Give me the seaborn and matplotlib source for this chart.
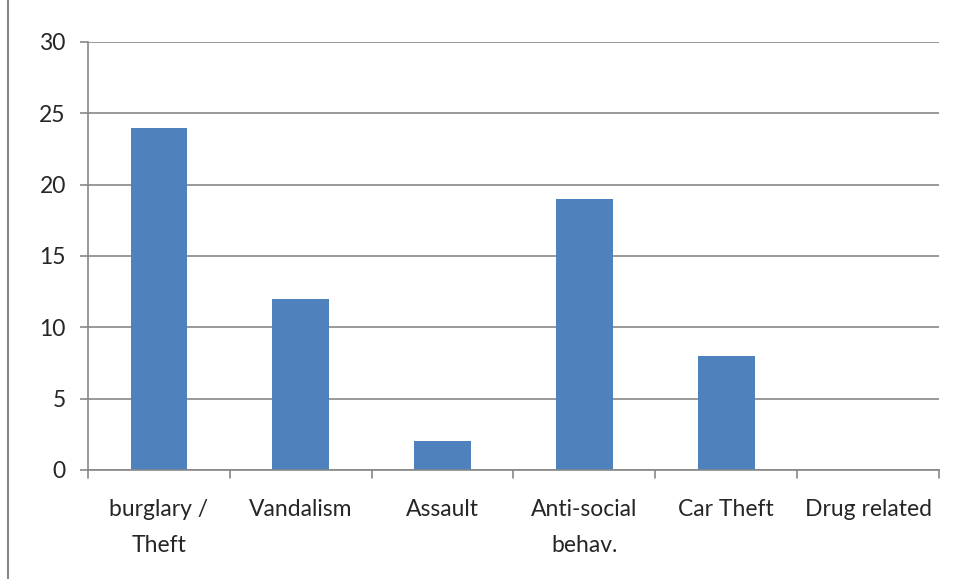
import matplotlib
matplotlib.use("Agg")
import matplotlib.pyplot as plt
from matplotlib.lines import Line2D
import seaborn as sns
import pandas as pd

CATEGORIES = ["burglary /\nTheft", "Vandalism", "Assault", "Anti-social\nbehav.", "Car Theft", "Drug related"]
COUNTS = [24, 12, 2, 19, 8, 0]
Y_TICKS = [0, 5, 10, 15, 20, 25, 30]

BAR_COLOR = "#4F81BD"
GRID_COLOR = "#878787"
FONT_SIZE = 16.5

sns.set_style("white")
plt.rcParams["font.family"] = ["Lato", "DejaVu Sans"]

df = pd.DataFrame({"category": CATEGORIES, "count": COUNTS})

fig = plt.figure(figsize=(9.57, 5.79), dpi=100)
ax = fig.add_axes([88 / 957, 1 - 470 / 579, (939 - 88) / 957, (470 - 42) / 579])

sns.barplot(data=df, x="category", y="count", color=BAR_COLOR, width=0.4,
            saturation=1, linewidth=0, ax=ax)

ax.set_ylim(0, 30)
ax.set_xlim(-0.5, len(CATEGORIES) - 0.5)
ax.set_yticks(Y_TICKS)
ax.set_yticklabels([str(t) for t in Y_TICKS], fontsize=FONT_SIZE)
ax.set_xlabel("")
ax.set_ylabel("")
ax.tick_params(axis="x", length=0, pad=21, labelsize=FONT_SIZE)
for lbl in ax.get_xticklabels():
    lbl.set_linespacing(1.85)
ax.tick_params(axis="y", length=6, width=1.2, color=GRID_COLOR, pad=10, left=True)
ax.yaxis.grid(True, color=GRID_COLOR, linewidth=1.2)
ax.set_axisbelow(True)

for side in ["top", "right"]:
    ax.spines[side].set_visible(False)
for side in ["left", "bottom"]:
    ax.spines[side].set_color(GRID_COLOR)
    ax.spines[side].set_linewidth(1.2)

# category separator ticks below the x axis
for b in range(len(CATEGORIES) + 1):
    ax.plot([b - 0.5, b - 0.5], [0, -0.55], color=GRID_COLOR, linewidth=1.2,
            clip_on=False, zorder=0)

# left border line of the chart area
fig.add_artist(Line2D([8 / 957, 8 / 957], [0.0, 1.0], color=GRID_COLOR, linewidth=1.5))

fig.savefig("out.png", dpi=100)
